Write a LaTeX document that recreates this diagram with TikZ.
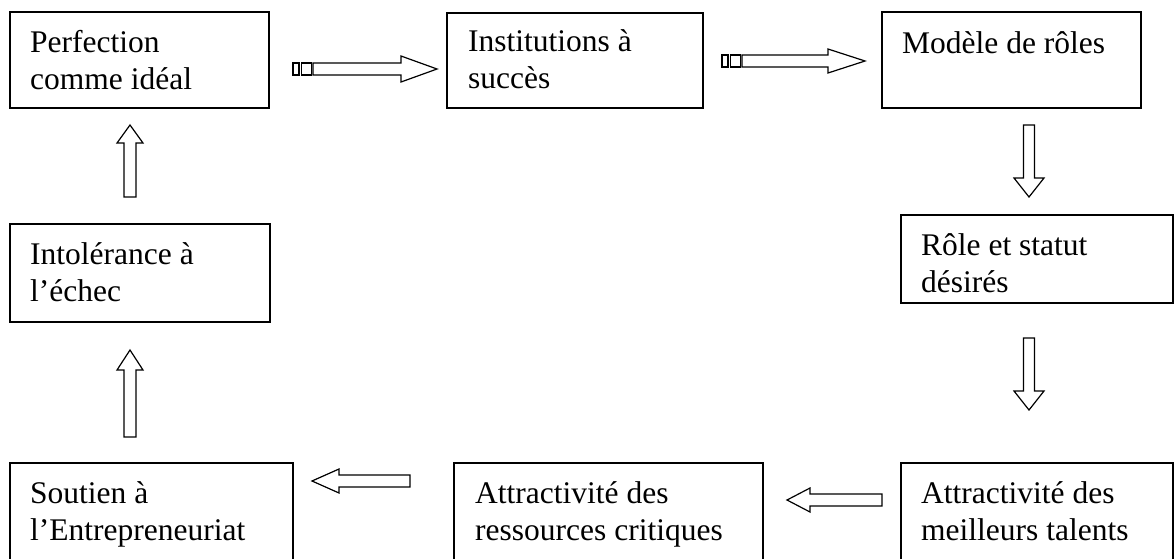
\documentclass[tikz,border=0pt]{standalone}
\usepackage{fontspec}
\setmainfont{Liberation Serif}
\usetikzlibrary{calc}

\tikzset{
  box/.style={rectangle, draw, line width=1.6pt, inner sep=0pt, outer sep=0pt, anchor=north west},
  txt/.style={anchor=north west, align=left, inner sep=0pt, font=\fontsize{31.5}{37}\selectfont},
  arrowline/.style={line width=1.2pt, line join=miter},
}

% hollow block arrow: tail, tip, shaft half width, head half width, head length
\newcommand{\blockarrow}[5]{%
  \draw[arrowline] let \p1=(#1), \p2=(#2),
      \n1={veclen(\x2-\x1,\y2-\y1)}, \n2={atan2(\y2-\y1,\x2-\x1)} in
    {[shift={(\p1)}, rotate=\n2]
     (0pt,-#3pt) -- (\n1-#5pt,-#3pt) -- (\n1-#5pt,-#4pt) -- (\n1,0pt)
     -- (\n1-#5pt,#4pt) -- (\n1-#5pt,#3pt) -- (0pt,#3pt) -- cycle};
}
% same, with the two stripes behind the tail
\newcommand{\stripedarrow}[5]{%
  \blockarrow{#1}{#2}{#3}{#4}{#5}
  \draw[arrowline] let \p1=(#1), \p2=(#2), \n2={atan2(\y2-\y1,\x2-\x1)} in
    {[shift={(\p1)}, rotate=\n2]
     (-20pt,-#3pt) rectangle (-14pt,#3pt)
     (-11.5pt,-#3pt) rectangle (-1.5pt,#3pt)};
}

\begin{document}
\begin{tikzpicture}[x=1pt,y=-1pt]
\useasboundingbox (0,0) rectangle (1175,558);

% top row
\node[box, minimum width=259pt, minimum height=96pt] (perf) at (10,12) {};
\node[txt] (perf-t) at ($(perf.north west)+(20,18.5)$) {Perfection\\comme idéal};

\node[box, minimum width=256pt, minimum height=95pt] (inst) at (447,13) {};
\node[txt] (inst-t) at ($(inst.north west)+(21,16)$) {Institutions à\\succès};

\node[box, minimum width=259pt, minimum height=96pt] (modele) at (882,12) {};
\node[txt] (modele-t) at ($(modele.north west)+(20,19)$) {Modèle de rôles};

% right column
\node[box, minimum width=272pt, minimum height=88pt] (role) at (901,215) {};
\node[txt] (role-t) at ($(role.north west)+(20,18.5)$) {Rôle et statut\\désirés};

% bottom row
\node[box, minimum width=272pt, minimum height=110pt] (talents) at (901,463) {};
\node[txt] (talents-t) at ($(talents.north west)+(20,18.5)$) {Attractivité des\\meilleurs talents};

\node[box, minimum width=309pt, minimum height=110pt] (ress) at (454,463) {};
\node[txt] (ress-t) at ($(ress.north west)+(21,18.5)$) {Attractivité des\\ressources critiques};

\node[box, minimum width=283pt, minimum height=110pt] (soutien) at (10,463) {};
\node[txt] (soutien-t) at ($(soutien.north west)+(20,18)$) {Soutien à\\l’Entrepreneuriat};

% left column
\node[box, minimum width=260pt, minimum height=98pt] (intol) at (10,224) {};
\node[txt] (intol-t) at ($(intol.north west)+(20,18)$) {Intolérance à\\l’échec};

% arrow ends
\coordinate (a1s) at (313,69);   \coordinate (a1e) at (437,69);
\coordinate (a2s) at (742,61);   \coordinate (a2e) at (865,61);
\coordinate (a3s) at (1029,125); \coordinate (a3e) at (1029,197);
\coordinate (a4s) at (1029,338); \coordinate (a4e) at (1029,410);
\coordinate (a5s) at (882,500);  \coordinate (a5e) at (787,500);
\coordinate (a6s) at (410,481);  \coordinate (a6e) at (312,481);
\coordinate (a7s) at (130,437);  \coordinate (a7e) at (130,350);
\coordinate (a8s) at (130,197);  \coordinate (a8e) at (130,125);

\stripedarrow{a1s}{a1e}{6}{13}{36}
\stripedarrow{a2s}{a2e}{6}{12}{37}
\blockarrow{a3s}{a3e}{5.5}{15}{19}
\blockarrow{a4s}{a4e}{5.5}{15}{19}
\blockarrow{a5s}{a5e}{6}{12}{23}
\blockarrow{a6s}{a6e}{6}{12}{27}
\blockarrow{a7s}{a7e}{6}{13}{20}
\blockarrow{a8s}{a8e}{6}{13}{18}

\end{tikzpicture}
\end{document}
